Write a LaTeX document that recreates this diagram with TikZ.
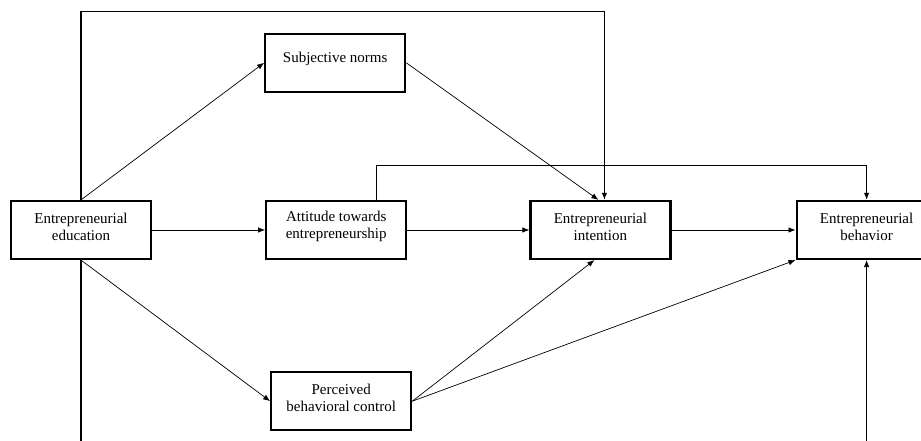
\documentclass[tikz,border=0pt]{standalone}
\usepackage{fontspec}
\setmainfont{Liberation Serif}
\usetikzlibrary{arrows.meta, positioning}

\begin{document}
\begin{tikzpicture}[
    x=1pt, y=1pt,
    node distance=110pt,
    box/.style={rectangle, draw, line width=2.2pt, minimum width=140pt, minimum height=58pt, inner sep=0pt},
    txt/.style={align=center, font=\fontsize{15}{17}\selectfont, yshift=3.5pt},
    arrow/.style={-{Latex[length=7pt, width=5.5pt]}, line width=0.7pt},
    route/.style={line width=1.2pt}
]
\clip (0,0) rectangle (921,441);

% Nodes
\node[box, label={[txt]center:Entrepreneurial\\education}] (edu) at (81,211) {};

\node[box, right=113pt of edu, label={[txt]center:Attitude towards\\entrepreneurship}] (att) {};

\node[box, right=122pt of att, label={[txt]center:Entrepreneurial\\intention}] (int) {};

\node[box, right=124pt of int, label={[txt]center:Entrepreneurial\\behavior}] (beh) {};

\node[box, above=107pt of att, xshift=-1pt, label={[txt]center:Subjective norms}] (norms) {};

\node[box, below=111pt of att, xshift=5pt, label={[txt]center:Perceived\\behavioral control}] (pbc) {};

\coordinate (base) at (0,0);

% Arrows
\draw[arrow, route] (edu.north) -- ++(0,188) -| ([xshift=4pt]int.north);
\draw[arrow, route] ([xshift=40pt]att.north) -- ++(0,34) -| (beh.north);
\draw[arrow] (edu.north) -- (norms.west);
\draw[arrow] (norms.east) -- ([xshift=-2pt]int.north);
\draw[arrow] (edu) -- (att);
\draw[arrow] (att) -- (int);
\draw[arrow] (int) -- (beh);
\draw[arrow] (edu.south) -- (pbc.west);
\draw[arrow] (pbc.east) -- ([xshift=-6pt]int.south);
\draw[arrow] (pbc.east) -- (beh.south west);
\draw[route] (edu.south) -- (edu.south |- base);
\draw[arrow] (beh.south |- base) -- (beh.south);

\end{tikzpicture}
\end{document}
